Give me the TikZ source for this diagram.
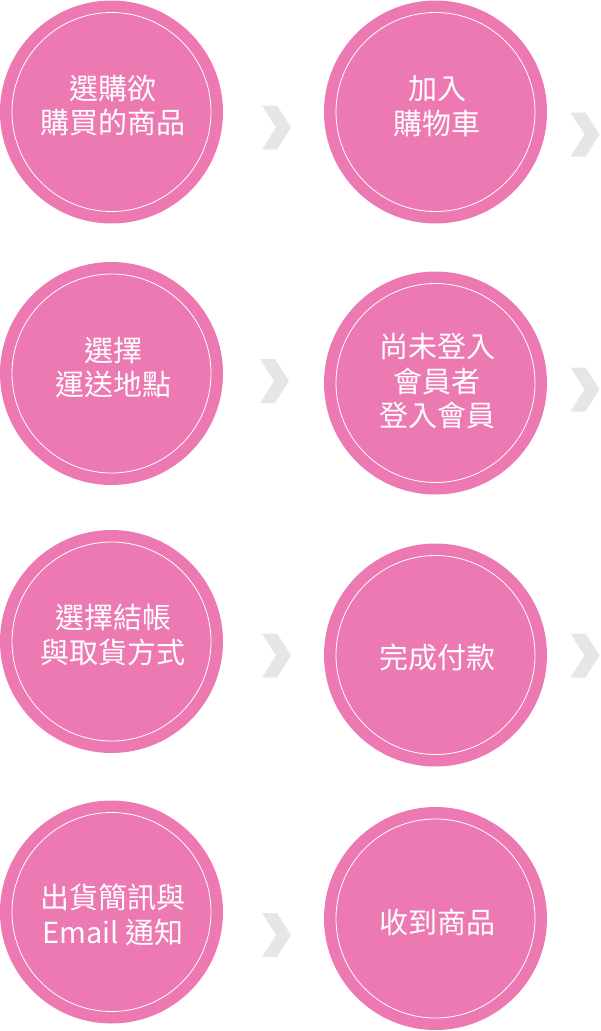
\documentclass[tikz,border=0pt]{standalone}
\usepackage{fontspec}
\newfontfamily\cjk{Noto Sans CJK TC}
\definecolor{stepfill}{RGB}{237,121,178}
\definecolor{chevgray}{RGB}{230,230,230}
\tikzset{
  stepcircle/.style={circle, fill=stepfill, draw=none, inner sep=0pt, minimum size=223pt,
    path picture={\draw[white, line width=0.8pt] (path picture bounding box.center) circle (99.5pt);}},
  steptext/.style={text=white, align=center, inner sep=0pt, font=\cjk\fontsize{29}{34.5}\selectfont},
  chev/.pic={\fill[chevgray] (-14.5,-22) -- (0.5,-22) -- (14.5,0) -- (0.5,22) -- (-14.5,22) -- (-0.5,0) -- cycle;}
}
\begin{document}
\begin{tikzpicture}[x=1pt,y=-1pt]
\useasboundingbox (0,0) rectangle (600,1031);
% circles
\node[stepcircle] (c1) at (111.5,112) {};
\node[stepcircle] (c2) at (435.5,112) {};
\node[stepcircle] (c3) at (111.5,373.5) {};
\node[stepcircle] (c4) at (435.5,383) {};
\node[stepcircle] (c5) at (111.5,641.5) {};
\node[stepcircle] (c6) at (435.5,655) {};
\node[stepcircle] (c7) at (111.5,912) {};
\node[stepcircle] (c8) at (435.5,918.5) {};
% texts
\node[steptext] (t1) at (113,105.5) {選購欲\\購買的商品};
\node[steptext] (t2) at (437,106) {加入\\購物車};
\node[steptext] (t3) at (113,367.5) {選擇\\運送地點};
\node[steptext] (t4) at (437,381.5) {尚未登入\\會員者\\登入會員};
\node[steptext] (t5) at (113,635) {選擇結帳\\與取貨方式};
\node[steptext] (t6) at (437,657) {完成付款};
\node[steptext] (t7) at (113,915) {出貨簡訊與\\Email 通知};
\node[steptext] (t8) at (437,922) {收到商品};
% chevrons
\pic at (276.5,127.5) {chev};
\pic at (585,134.5) {chev};
\pic at (274.5,381) {chev};
\pic at (585,389.5) {chev};
\pic at (276.5,655.5) {chev};
\pic at (585,655.5) {chev};
\pic at (276.5,935) {chev};
\end{tikzpicture}
\end{document}
